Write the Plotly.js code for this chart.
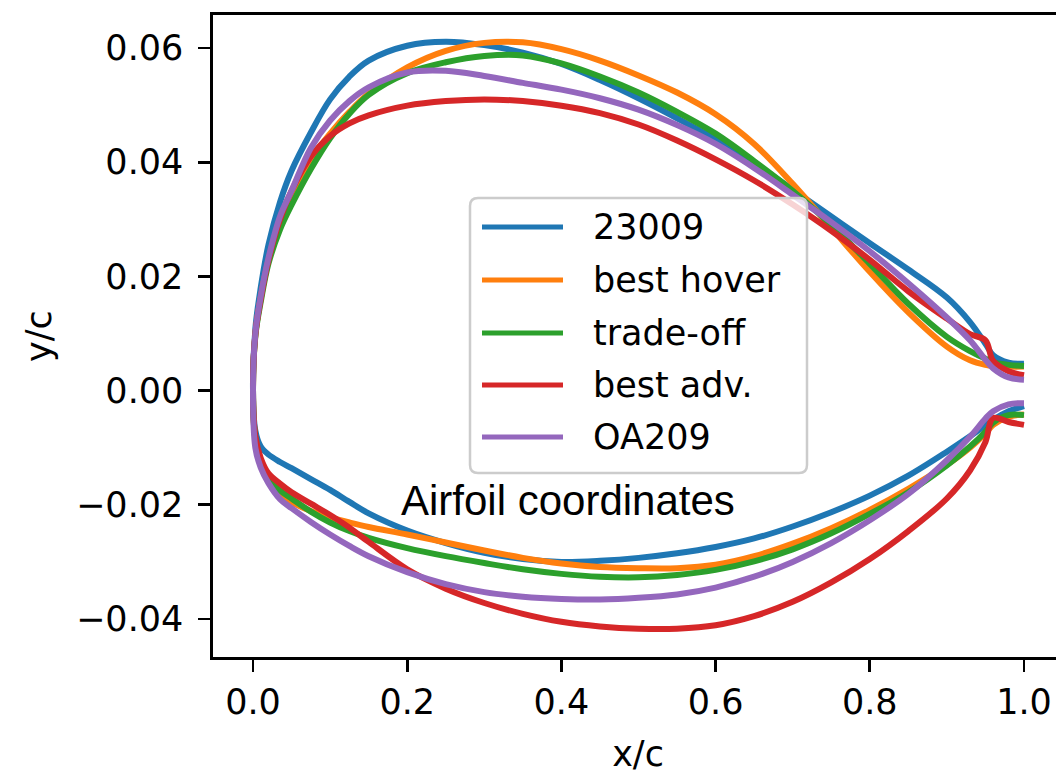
<!DOCTYPE html>
<html>
<head>
<meta charset="utf-8">
<script src="https://cdn.plot.ly/plotly-3.0.1.min.js"></script>
<style>
  html, body { margin: 0; padding: 0; overflow: hidden; background: #ffffff; }
  #chart { width: 1070px; height: 774px; }
</style>
</head>
<body>
<div id="chart"></div>
<script>
// Chordwise stations (x/c) shared by all airfoils
const xStations = [0, 0.003, 0.01, 0.02, 0.035, 0.05, 0.075, 0.1, 0.125, 0.15, 0.2, 0.25, 0.3, 0.35, 0.4, 0.45, 0.5, 0.55, 0.6, 0.65, 0.7, 0.75, 0.8, 0.85, 0.9, 0.93, 0.95, 0.96, 0.98, 1.0];

// Series names
const seriesNames = ["23009", "best hover", "trade-off", "best adv.", "OA209"];

// Upper surfaces (y/c)
const upper23009     = [0, 0.0108, 0.0180, 0.0255, 0.0330, 0.0385, 0.0452, 0.0510, 0.0550, 0.0578, 0.0604, 0.0611, 0.0605, 0.0592, 0.0572, 0.0544, 0.0512, 0.0477, 0.0440, 0.0398, 0.0352, 0.0305, 0.0258, 0.0212, 0.0163, 0.0120, 0.0082, 0.0062, 0.0049, 0.0047];
const upperBestHover = [0, 0.0098, 0.0163, 0.0228, 0.0297, 0.0346, 0.0405, 0.0450, 0.0488, 0.0520, 0.0566, 0.0595, 0.0609, 0.0610, 0.0598, 0.0578, 0.0552, 0.0522, 0.0484, 0.0432, 0.0362, 0.0285, 0.0208, 0.0137, 0.0077, 0.0053, 0.0045, 0.0043, 0.0042, 0.0042];
const upperTradeOff  = [0, 0.0095, 0.0155, 0.0222, 0.0282, 0.0325, 0.0388, 0.0442, 0.0485, 0.0518, 0.0556, 0.0575, 0.0586, 0.0587, 0.0573, 0.0550, 0.0522, 0.0488, 0.0450, 0.0402, 0.0350, 0.0290, 0.0222, 0.0152, 0.0094, 0.0069, 0.0056, 0.0050, 0.0045, 0.0043];
const upperBestAdv   = [0, 0.0098, 0.0160, 0.0228, 0.0300, 0.0350, 0.0410, 0.0446, 0.0468, 0.0482, 0.0499, 0.0507, 0.0510, 0.0507, 0.0499, 0.0486, 0.0466, 0.0438, 0.0405, 0.0368, 0.0326, 0.0280, 0.0229, 0.0174, 0.0126, 0.0099, 0.0088, 0.0052, 0.0034, 0.0027];
const upperOA209     = [0, 0.0100, 0.0165, 0.0232, 0.0305, 0.0350, 0.0425, 0.0473, 0.0507, 0.0531, 0.0557, 0.0560, 0.0551, 0.0539, 0.0527, 0.0512, 0.0492, 0.0465, 0.0432, 0.0390, 0.0343, 0.0295, 0.0244, 0.0188, 0.0128, 0.0088, 0.0054, 0.0039, 0.0023, 0.0019];

// Lower surfaces (y/c)
const lower23009     = [0, -0.0070, -0.0098, -0.0112, -0.0125, -0.0136, -0.0155, -0.0174, -0.0195, -0.0215, -0.0245, -0.0267, -0.0284, -0.0295, -0.0300, -0.0298, -0.0293, -0.0285, -0.0274, -0.0259, -0.0238, -0.0213, -0.0184, -0.0149, -0.0107, -0.0080, -0.0061, -0.0051, -0.0036, -0.0027];
const lowerBestHover = [0, -0.0085, -0.0125, -0.0155, -0.0180, -0.0195, -0.0211, -0.0222, -0.0231, -0.0239, -0.0252, -0.0266, -0.0280, -0.0293, -0.0303, -0.0309, -0.0311, -0.0311, -0.0305, -0.0290, -0.0268, -0.0241, -0.0209, -0.0172, -0.0130, -0.0100, -0.0075, -0.0060, -0.0046, -0.0042];
const lowerTradeOff  = [0, -0.0085, -0.0125, -0.0155, -0.0175, -0.0189, -0.0212, -0.0231, -0.0246, -0.0258, -0.0276, -0.0290, -0.0302, -0.0313, -0.0321, -0.0326, -0.0327, -0.0323, -0.0314, -0.0299, -0.0278, -0.0250, -0.0216, -0.0178, -0.0131, -0.0098, -0.0072, -0.0056, -0.0043, -0.0043];
const lowerBestAdv   = [0, -0.0080, -0.0118, -0.0145, -0.0163, -0.0178, -0.0198, -0.0218, -0.0240, -0.0265, -0.0313, -0.0347, -0.0372, -0.0391, -0.0405, -0.0413, -0.0417, -0.0417, -0.0411, -0.0395, -0.0370, -0.0336, -0.0295, -0.0246, -0.0189, -0.0140, -0.0090, -0.0048, -0.0055, -0.0060];
const lowerOA209     = [0, -0.0100, -0.0135, -0.0162, -0.0190, -0.0206, -0.0230, -0.0252, -0.0272, -0.0290, -0.0318, -0.0339, -0.0353, -0.0361, -0.0365, -0.0366, -0.0363, -0.0357, -0.0345, -0.0326, -0.0300, -0.0267, -0.0227, -0.0181, -0.0122, -0.0081, -0.0049, -0.0036, -0.0024, -0.0022];

const upperSets = [upper23009, upperBestHover, upperTradeOff, upperBestAdv, upperOA209];
const lowerSets = [lower23009, lowerBestHover, lowerTradeOff, lowerBestAdv, lowerOA209];
const colors = ["#1f77b4", "#ff7f0e", "#2ca02c", "#d62728", "#9467bd"];

const traces = seriesNames.map((name, i) => {
  const xu = xStations.slice().reverse();
  const yu = upperSets[i].slice().reverse();
  const xl = xStations.slice(1);
  const yl = lowerSets[i].slice(1);
  return {
    type: "scatter",
    mode: "lines",
    name: name,
    x: xu.concat(xl),
    y: yu.concat(yl),
    line: { color: colors[i], width: 6, shape: "spline", smoothing: 1 },
    showlegend: false,
    hoverinfo: "skip"
  };
});

// Plot area in pixels (layout geometry)
const W = 1070, H = 774;
const M = { l: 213, r: 7, t: 15, b: 117 };
const pw = W - M.l - M.r, ph = H - M.t - M.b;
const px2paperX = p => (p - M.l) / pw;
const px2paperY = p => (H - M.b - p) / ph;

// Custom legend (matplotlib-like)
const legendRowsPx = [227, 280, 333, 385, 437];
const shapes = [];
const annotations = [];
{
  const x0 = 470, x1 = 807, y0 = 198, y1 = 473, r = 8;
  const X = p => px2paperX(p), Y = p => px2paperY(p);
  const path = `M ${X(x0 + r)},${Y(y0)} L ${X(x1 - r)},${Y(y0)} Q ${X(x1)},${Y(y0)} ${X(x1)},${Y(y0 + r)} ` +
               `L ${X(x1)},${Y(y1 - r)} Q ${X(x1)},${Y(y1)} ${X(x1 - r)},${Y(y1)} ` +
               `L ${X(x0 + r)},${Y(y1)} Q ${X(x0)},${Y(y1)} ${X(x0)},${Y(y1 - r)} ` +
               `L ${X(x0)},${Y(y0 + r)} Q ${X(x0)},${Y(y0)} ${X(x0 + r)},${Y(y0)} Z`;
  shapes.push({ type: "path", xref: "paper", yref: "paper", path: path,
    fillcolor: "rgba(255,255,255,0.8)", line: { color: "#cccccc", width: 2.5 }, layer: "above" });
  seriesNames.forEach((name, i) => {
    const yy = px2paperY(legendRowsPx[i]);
    shapes.push({ type: "line", xref: "paper", yref: "paper",
      x0: px2paperX(482), x1: px2paperX(563), y0: yy, y1: yy,
      line: { color: colors[i], width: 5 }, layer: "above" });
    annotations.push({ xref: "paper", yref: "paper", x: px2paperX(591), y: yy,
      xanchor: "left", yanchor: "middle", showarrow: false, text: name,
      font: { family: "DejaVu Sans", size: 35, color: "#000000" } });
  });
}
annotations.push({ xref: "paper", yref: "paper", x: px2paperX(568), y: px2paperY(500),
  xanchor: "center", yanchor: "middle", showarrow: false, text: "Airfoil coordinates",
  font: { family: "Liberation Sans, Arial", size: 42, color: "#000000" } });

const axisCommon = {
  showline: true, mirror: true, linecolor: "#000000", linewidth: 2.7,
  ticks: "outside", ticklen: 12, tickwidth: 2.7, tickcolor: "#000000",
  showgrid: false, zeroline: false,
  tickfont: { family: "DejaVu Sans", size: 35, color: "#000000" }
};

const layout = {
  width: W, height: H,
  margin: M,
  paper_bgcolor: "#ffffff", plot_bgcolor: "#ffffff",
  showlegend: false,
  xaxis: Object.assign({}, axisCommon, {
    range: [-0.0519, 1.0506], tickvals: [0, 0.2, 0.4, 0.6, 0.8, 1.0],
    ticktext: ["0.0", "0.2", "0.4", "0.6", "0.8", "1.0"],
    title: { text: "x/c", font: { family: "DejaVu Sans", size: 35, color: "#000000" }, standoff: 24 }
  }),
  yaxis: Object.assign({}, axisCommon, {
    range: [-0.04666, 0.06578], tickvals: [-0.04, -0.02, 0, 0.02, 0.04, 0.06],
    ticktext: ["\u22120.04", "\u22120.02", "0.00", "0.02", "0.04", "0.06"],
    ticklabelstandoff: 8,
    title: { text: "y/c", font: { family: "DejaVu Sans", size: 35, color: "#000000" }, standoff: 14 }
  }),
  shapes: shapes,
  annotations: annotations
};

Plotly.newPlot("chart", traces, layout, { displayModeBar: false, staticPlot: true });
</script>
</body>
</html>
